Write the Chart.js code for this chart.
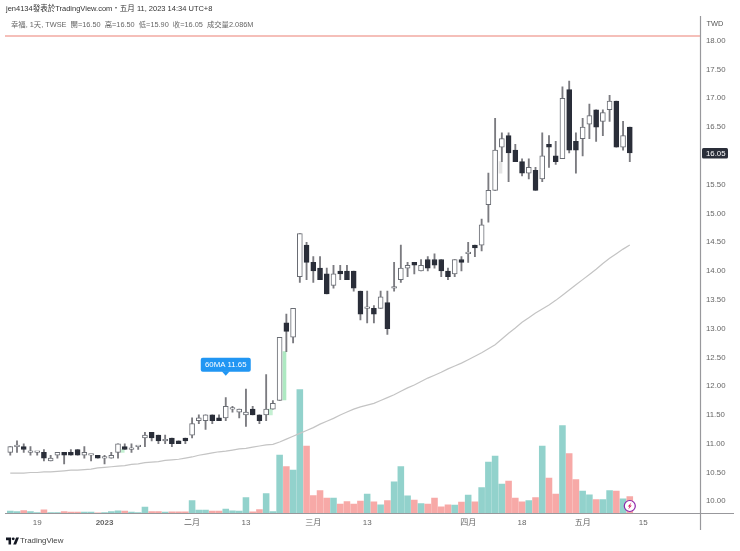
<!DOCTYPE html>
<html>
<head>
<meta charset="utf-8">
<title>幸福 1天</title>
<script src="https://cdn.jsdelivr.net/npm/chart.js@4"></script>
<style>
html, body { margin: 0; padding: 0; background: #fff; }
body { width: 740px; height: 551px; position: relative; overflow: hidden; font-family: "Liberation Sans", "Noto Sans CJK TC", sans-serif; }
canvas { position: absolute; left: 0; top: 0; }
.txt { position: absolute; white-space: pre; line-height: 12px; }
#head { left: 6px; top: 3px; font-size: 7.5px; color: #333; }
#legend { left: 11px; top: 19px; font-size: 7.35px; color: #666; }
#brand { left: 20px; top: 535px; font-size: 7.9px; color: #444; }
#logo { position: absolute; left: 6px; top: 537px; }
</style>
</head>
<body>
<canvas id="chart" width="740" height="551"></canvas>
<div class="txt" id="head">jen4134發表於TradingView.com・五月 11, 2023 14:34 UTC+8</div>
<div class="txt" id="legend">幸福, 1天, TWSE  開=16.50  高=16.50  低=15.90  收=16.05  成交量2.086M</div>
<svg id="logo" width="13" height="8" viewBox="0 0 36 20"><path fill="#131722" d="M14 20H7V8H0V0h14v20zM28 20h-8L28 0h8l-8 20z"/><circle cx="20" cy="4" r="4" fill="#131722"/></svg>
<div class="txt" id="brand">TradingView</div>
<script>
const opens = [
    10.85, 10.95, 10.95, 10.85, 10.85, 10.85, 10.70, 10.80, 10.85, 10.85,
    10.90, 10.80, 10.80, 10.80, 10.75, 10.75, 10.85, 10.95, 10.90, 10.95,
    11.10, 11.20, 11.15, 11.05, 11.10, 11.05, 11.10, 11.15, 11.40, 11.40,
    11.50, 11.45, 11.45, 11.60, 11.55, 11.50, 11.60, 11.50, 11.50, 11.60,
    11.75, 13.10, 12.85, 13.90, 14.45, 14.15, 14.05, 13.95, 13.75, 14.00,
    14.00, 14.00, 13.65, 13.35, 13.35, 13.35, 13.45, 13.70, 13.85, 14.05,
    14.15, 14.00, 14.20, 14.20, 14.20, 14.00, 13.95, 14.20, 14.30, 14.45,
    14.45, 15.15, 15.40, 16.15, 16.35, 16.10, 15.90, 15.70, 15.75, 15.60,
    16.20, 16.00, 15.95, 17.15, 16.25, 16.30, 16.55, 16.80, 16.60, 16.80,
    16.95, 16.15, 16.50
];
const closes = [
    10.95, 10.95, 10.90, 10.85, 10.85, 10.75, 10.75, 10.85, 10.80, 10.80,
    10.80, 10.85, 10.80, 10.75, 10.75, 10.80, 11.00, 10.90, 10.90, 10.95,
    11.15, 11.10, 11.05, 11.05, 11.00, 11.00, 11.05, 11.35, 11.45, 11.50,
    11.40, 11.40, 11.65, 11.60, 11.60, 11.55, 11.50, 11.40, 11.60, 11.70,
    12.85, 12.95, 13.35, 14.65, 14.15, 14.00, 13.85, 13.60, 13.95, 13.95,
    13.85, 13.70, 13.25, 13.35, 13.25, 13.55, 13.00, 13.70, 14.05, 14.10,
    14.10, 14.10, 14.05, 14.10, 14.00, 13.90, 14.20, 14.15, 14.30, 14.40,
    14.80, 15.40, 16.10, 16.30, 16.05, 15.90, 15.70, 15.80, 15.40, 16.00,
    16.15, 15.90, 17.00, 16.10, 16.10, 16.50, 16.70, 16.50, 16.75, 16.95,
    16.15, 16.35, 16.05
];
const highs = [
    10.95, 11.05, 11.00, 10.95, 10.85, 10.90, 10.80, 10.85, 10.85, 10.90,
    10.90, 10.95, 10.80, 10.80, 10.80, 10.85, 11.00, 11.00, 11.00, 10.95,
    11.20, 11.20, 11.15, 11.15, 11.10, 11.05, 11.10, 11.45, 11.50, 11.50,
    11.50, 11.50, 11.80, 11.65, 11.60, 11.95, 11.65, 11.50, 12.20, 11.75,
    12.85, 13.25, 13.35, 14.65, 14.50, 14.25, 14.25, 14.05, 14.10, 14.10,
    14.10, 14.00, 13.65, 13.65, 13.40, 13.65, 13.65, 14.15, 14.45, 14.15,
    14.15, 14.20, 14.25, 14.30, 14.20, 14.05, 14.20, 14.25, 14.50, 14.45,
    14.90, 15.70, 16.65, 16.40, 16.40, 16.20, 15.95, 15.95, 15.80, 16.40,
    16.35, 16.25, 17.20, 17.30, 16.40, 16.65, 16.90, 16.80, 16.80, 17.05,
    16.95, 16.60, 16.50
];
const lows = [
    10.80, 10.85, 10.85, 10.80, 10.80, 10.70, 10.70, 10.75, 10.65, 10.80,
    10.80, 10.75, 10.70, 10.75, 10.65, 10.75, 10.75, 10.90, 10.85, 10.90,
    10.95, 11.05, 11.00, 11.00, 10.95, 11.00, 11.00, 11.10, 11.35, 11.25,
    11.35, 11.40, 11.40, 11.55, 11.45, 11.30, 11.50, 11.35, 11.40, 11.60,
    11.75, 12.60, 12.75, 13.80, 13.85, 13.80, 13.85, 13.60, 13.70, 13.85,
    13.85, 13.65, 13.15, 13.10, 13.10, 13.35, 12.90, 13.65, 13.80, 13.90,
    13.95, 14.00, 14.00, 14.05, 13.90, 13.85, 13.90, 14.00, 14.15, 14.25,
    14.35, 14.85, 15.40, 15.90, 15.55, 15.90, 15.65, 15.60, 15.40, 15.55,
    15.80, 15.85, 15.95, 16.05, 15.70, 16.00, 16.30, 16.25, 16.35, 16.60,
    16.15, 16.10, 15.90
];
// millions of shares
const volumes = [
    0.29, 0.25, 0.37, 0.25, 0.12, 0.45, 0.12, 0.12, 0.25, 0.16,
    0.16, 0.16, 0.16, 0.08, 0.12, 0.25, 0.33, 0.29, 0.16, 0.12,
    0.78, 0.25, 0.25, 0.16, 0.20, 0.20, 0.20, 1.60, 0.41, 0.41,
    0.29, 0.29, 0.53, 0.33, 0.29, 1.96, 0.20, 0.49, 2.45, 0.25,
    7.16, 5.77, 5.32, 15.21, 8.26, 2.21, 2.82, 1.88, 1.88, 1.15,
    1.47, 1.15, 1.51, 2.37, 1.43, 1.06, 1.60, 3.89, 5.77, 2.17,
    1.64, 1.23, 1.15, 1.88, 0.82, 1.06, 1.02, 1.39, 2.25, 1.43,
    3.19, 6.30, 7.03, 3.60, 3.97, 1.88, 1.43, 1.60, 1.96, 8.26,
    4.34, 2.37, 10.80, 7.36, 4.17, 2.74, 2.29, 1.72, 1.72, 2.82,
    2.74, 1.80, 2.09
];
const ma60 = [
    10.49, 10.49, 10.49, 10.50, 10.50, 10.51, 10.51, 10.52, 10.53, 10.54,
    10.54, 10.55, 10.56, 10.58, 10.59, 10.60, 10.61, 10.62, 10.64, 10.65,
    10.67, 10.68, 10.69, 10.71, 10.72, 10.73, 10.75, 10.77, 10.80, 10.82,
    10.84, 10.86, 10.87, 10.89, 10.91, 10.92, 10.94, 10.96, 10.98, 10.99,
    11.03, 11.08, 11.13, 11.18, 11.23, 11.28, 11.34, 11.39, 11.44, 11.50,
    11.55, 11.60, 11.64, 11.67, 11.70, 11.75, 11.80, 11.85, 11.91, 11.97,
    12.02, 12.08, 12.14, 12.19, 12.24, 12.30, 12.35, 12.40, 12.46, 12.52,
    12.58, 12.65, 12.72, 12.82, 12.92, 13.01, 13.11, 13.19, 13.27, 13.34,
    13.41, 13.49, 13.58, 13.67, 13.76, 13.85, 13.94, 14.03, 14.13, 14.22,
    14.30, 14.38, 14.45
];

// pale shadows that sit beside a few candles
const ghostAt = [16.7, 38.7, 40.72, 72.8];
const ghostLow = [10.85, 11.50, 11.76, 15.70];
const ghostHigh = [10.90, 11.60, 12.60, 15.90];
const ghostColors = ['#c4f0d2', '#c4f0d2', '#aee9c2', '#e4e4e4'];

const slots = 103;
const tickAt = [4, 14, 27, 35, 45, 53, 68, 76, 85, 94];
const tickText = ['19', '2023', '二月', '13', '三月', '13', '四月', '18', '五月', '15'];
const priceMin = 9.788, priceMax = 18.429;
const volumeMax = 61.04;
const linePrice = 18.08;
const noteIndex = 32, notePrice = 12.18;
const noteText = '60MA 11.65';

const labels = [];
for (let i = 0; i < slots; i++) {
    const t = tickAt.indexOf(i);
    labels.push(t >= 0 ? tickText[t] : '');
}

const up = closes.map((c, i) => c >= opens[i]);
const tickFont = '"Liberation Sans", "Noto Sans CJK TC", sans-serif';

const extras = {
    id: 'extras',
    beforeDatasetsDraw(chart) {
        const { ctx, chartArea: a, scales } = chart;
        const y = scales.y.getPixelForValue(linePrice);
        ctx.save();
        ctx.strokeStyle = '#f2aaa2';
        ctx.lineWidth = 1.5;
        ctx.beginPath();
        ctx.moveTo(5, y);
        ctx.lineTo(a.right, y);
        ctx.stroke();
        ctx.restore();
    },
    afterDraw(chart) {
        const { ctx, chartArea: a, scales } = chart;
        ctx.save();

        // frame lines run past the plot on both axes
        ctx.strokeStyle = '#98989c';
        ctx.lineWidth = 1.2;
        ctx.beginPath();
        ctx.moveTo(a.right, 16);
        ctx.lineTo(a.right, 530);
        ctx.moveTo(5, a.bottom);
        ctx.lineTo(734, a.bottom);
        ctx.stroke();

        ctx.font = '7.4px ' + tickFont;
        ctx.fillStyle = '#555';
        ctx.textBaseline = 'middle';
        ctx.fillText('TWD', 706.5, 23.5);

        // last price tag
        const last = closes[closes.length - 1];
        const ly = scales.y.getPixelForValue(last);
        ctx.fillStyle = '#2a2e39';
        ctx.beginPath();
        ctx.roundRect(702, ly - 5, 26, 10.5, 1.5);
        ctx.fill();
        ctx.fillStyle = '#fff';
        ctx.font = '7.8px ' + tickFont;
        ctx.fillText(last.toFixed(2), 706, ly + 0.5);

        // note bubble over the candle
        const nx = scales.x.getPixelForValue(noteIndex);
        const ny = scales.y.getPixelForValue(notePrice);
        ctx.fillStyle = '#2196f3';
        ctx.beginPath();
        ctx.roundRect(nx - 25, ny - 18, 50, 14, 2);
        ctx.fill();
        ctx.beginPath();
        ctx.moveTo(nx - 4, ny - 4.5);
        ctx.lineTo(nx, ny);
        ctx.lineTo(nx + 4, ny - 4.5);
        ctx.fill();
        ctx.fillStyle = '#fff';
        ctx.font = '7.8px ' + tickFont;
        ctx.textAlign = 'center';
        ctx.fillText(noteText, nx, ny - 10.5);

        // flash badge on the last bar
        const bx = scales.x.getPixelForValue(closes.length - 1);
        const by = a.bottom - 7.5;
        ctx.fillStyle = '#fff';
        ctx.strokeStyle = '#8e24aa';
        ctx.lineWidth = 1.2;
        ctx.beginPath();
        ctx.arc(bx, by, 5.5, 0, Math.PI * 2);
        ctx.fill();
        ctx.stroke();
        ctx.fillStyle = '#d81b60';
        ctx.beginPath();
        ctx.moveTo(bx + 1.6, by - 3.4);
        ctx.lineTo(bx - 2, by + 0.6);
        ctx.lineTo(bx - 0.2, by + 0.6);
        ctx.lineTo(bx - 1.6, by + 3.4);
        ctx.lineTo(bx + 2, by - 0.6);
        ctx.lineTo(bx + 0.2, by - 0.6);
        ctx.closePath();
        ctx.fill();
        ctx.restore();
    }
};

new Chart(document.getElementById('chart'), {
    type: 'bar',
    data: {
        labels: labels,
        datasets: [
            {
                label: 'Volume',
                yAxisID: 'yv',
                data: volumes,
                backgroundColor: up.map(u => u ? 'rgba(38,166,154,0.5)' : 'rgba(239,83,80,0.5)'),
                barThickness: 5.9,
                order: 5
            },
            {
                label: 'Shadow',
                xAxisID: 'xg',
                data: ghostAt.map((x, i) => ({ x: x, y: [ghostLow[i], ghostHigh[i]] })),
                backgroundColor: ghostColors,
                barThickness: 3,
                order: 4
            },
            {
                type: 'line',
                label: 'MA60',
                data: ma60,
                borderColor: '#c4c4c4',
                borderWidth: 1.2,
                pointRadius: 0,
                tension: 0,
                order: 3
            },
            {
                label: 'Wick',
                data: lows.map((l, i) => [l, highs[i]]),
                backgroundColor: '#7b7b80',
                barThickness: 1.2,
                order: 2
            },
            {
                label: 'Body',
                data: opens.map((o, i) => [o, closes[i]]),
                backgroundColor: up.map(u => u ? '#ffffff' : '#2a2e39'),
                borderColor: up.map(u => u ? '#6a6d74' : '#2a2e39'),
                borderWidth: 1,
                borderSkipped: false,
                minBarLength: 1.6,
                barThickness: 5,
                order: 1
            }
        ]
    },
    options: {
        responsive: false,
        animation: false,
        datasets: { bar: { grouped: false } },
        layout: { padding: { left: 6.9, top: 16, right: 0, bottom: 21 } },
        plugins: { legend: { display: false }, tooltip: { enabled: false } },
        scales: {
            x: {
                offset: true,
                grid: { display: false, drawTicks: false },
                border: { display: false },
                afterFit(s) { s.height = 16.5; },
                ticks: {
                    autoSkip: false,
                    maxRotation: 0,
                    padding: 4,
                    color: '#666',
                    font: ctx => ({ family: tickFont, size: 8, weight: ctx.tick && ctx.tick.label === '2023' ? 'bold' : 'normal' })
                }
            },
            xg: { type: 'linear', display: false, offset: false, min: -0.5, max: slots - 0.5 },
            y: {
                position: 'right',
                min: priceMin,
                max: priceMax,
                grid: { display: false, drawTicks: false },
                border: { display: false },
                afterFit(s) { s.width = 39.5; },
                ticks: {
                    stepSize: 0.5,
                    includeBounds: false,
                    padding: 5.5,
                    color: '#666',
                    font: { family: tickFont, size: 7.8 },
                    callback: v => v.toFixed(2)
                }
            },
            yv: { display: false, min: 0, max: volumeMax }
        }
    },
    plugins: [extras]
});
</script>
</body>
</html>
